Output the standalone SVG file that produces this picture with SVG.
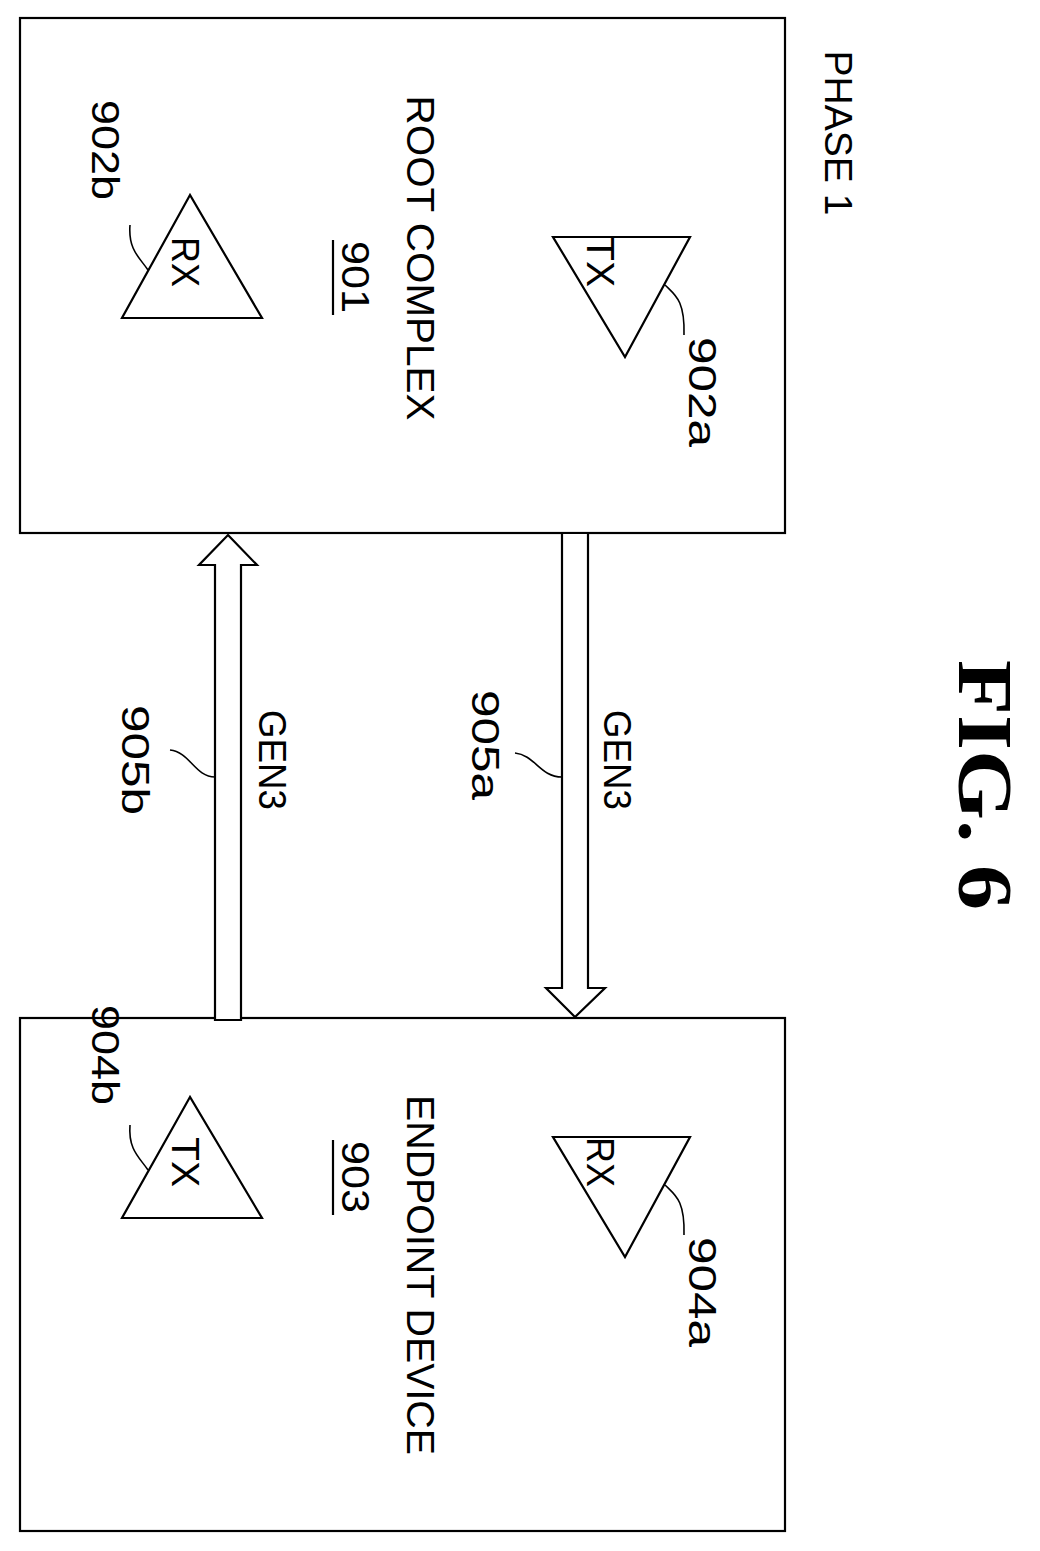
<svg xmlns="http://www.w3.org/2000/svg" width="1040" height="1551" viewBox="0 0 1040 1551">
<style>
.s{fill:none;stroke:#000;stroke-width:2.2}
.w{fill:#fff;stroke:#000;stroke-width:2.2}
.t{font-family:"Liberation Sans",Arial,sans-serif;font-size:38px;fill:#000;text-anchor:middle;dominant-baseline:central}
.l{fill:none;stroke:#000;stroke-width:1.6}
</style>
<rect width="1040" height="1551" fill="#fff"/>
<g id="phase"><text class="t" transform="translate(838,133) rotate(90)" textLength="165" lengthAdjust="spacingAndGlyphs">PHASE 1</text></g>
<g id="root">
<rect class="s" x="20" y="18" width="765" height="515"/>
<text class="t" transform="translate(420,258) rotate(90)" textLength="325" lengthAdjust="spacingAndGlyphs">ROOT COMPLEX</text>
<text class="t" transform="translate(355,277) rotate(90)" textLength="72" lengthAdjust="spacingAndGlyphs">901</text>
<line class="s" x1="333" y1="240" x2="333" y2="315"/>
</g>
<g id="n902b">
<polygon class="s" points="190,195 122,318 262,318"/>
<text class="t" transform="translate(185,262) rotate(90)" textLength="50" lengthAdjust="spacingAndGlyphs">RX</text>
<path class="l" d="M148,270 C140,258 128,250 130,225"/>
<text class="t" transform="translate(105,150) rotate(90)" textLength="100" lengthAdjust="spacingAndGlyphs">902b</text>
</g>
<g id="n902a">
<polygon class="s" points="553,237 690,237 625,357"/>
<text class="t" transform="translate(600,262) rotate(90)" textLength="50" lengthAdjust="spacingAndGlyphs">TX</text>
<path class="l" d="M665,285 C675,295 685,300 684,335"/>
<text class="t" transform="translate(702,392) rotate(90)" textLength="110" lengthAdjust="spacingAndGlyphs">902a</text>
</g>
<g id="endpoint">
<rect class="s" x="20" y="1018" width="765" height="513"/>
<text class="t" transform="translate(420,1275) rotate(90)" textLength="360" lengthAdjust="spacingAndGlyphs">ENDPOINT DEVICE</text>
<text class="t" transform="translate(355,1177) rotate(90)" textLength="72" lengthAdjust="spacingAndGlyphs">903</text>
<line class="s" x1="333" y1="1140" x2="333" y2="1215"/>
</g>
<g id="n904b">
<polygon class="s" points="190,1097 122,1218 262,1218"/>
<text class="t" transform="translate(185,1162) rotate(90)" textLength="50" lengthAdjust="spacingAndGlyphs">TX</text>
<path class="l" d="M148,1170 C140,1158 128,1150 130,1125"/>
<text class="t" transform="translate(105,1055) rotate(90)" textLength="100" lengthAdjust="spacingAndGlyphs">904b</text>
</g>
<g id="n904a">
<polygon class="s" points="553,1137 690,1137 625,1257"/>
<text class="t" transform="translate(600,1162) rotate(90)" textLength="50" lengthAdjust="spacingAndGlyphs">RX</text>
<path class="l" d="M665,1185 C675,1195 685,1200 684,1235"/>
<text class="t" transform="translate(702,1292) rotate(90)" textLength="110" lengthAdjust="spacingAndGlyphs">904a</text>
</g>
<g id="connectors">
<polygon class="w" points="228,535 257,565 241,565 241,1020 215,1020 215,565 199,565"/>
<polygon class="w" points="562,533 588,533 588,988 605,988 575,1017 546,988 562,988"/>
<path class="l" d="M215,777 C195,777 190,752 170,750"/>
<path class="l" d="M562,777 C540,777 535,755 515,753"/>
</g>
<g id="labels">
<text class="t" transform="translate(272,760) rotate(90)" textLength="100" lengthAdjust="spacingAndGlyphs">GEN3</text>
<text class="t" transform="translate(135,760) rotate(90)" textLength="110" lengthAdjust="spacingAndGlyphs">905b</text>
<text class="t" transform="translate(617,760) rotate(90)" textLength="100" lengthAdjust="spacingAndGlyphs">GEN3</text>
<text class="t" transform="translate(485,745) rotate(90)" textLength="110" lengthAdjust="spacingAndGlyphs">905a</text>
<text transform="translate(985,785) rotate(90)" text-anchor="middle" dominant-baseline="central" font-family="'Liberation Serif',serif" font-weight="bold" font-size="78" textLength="250" lengthAdjust="spacingAndGlyphs">FIG. 6</text>
</g>
</svg>
